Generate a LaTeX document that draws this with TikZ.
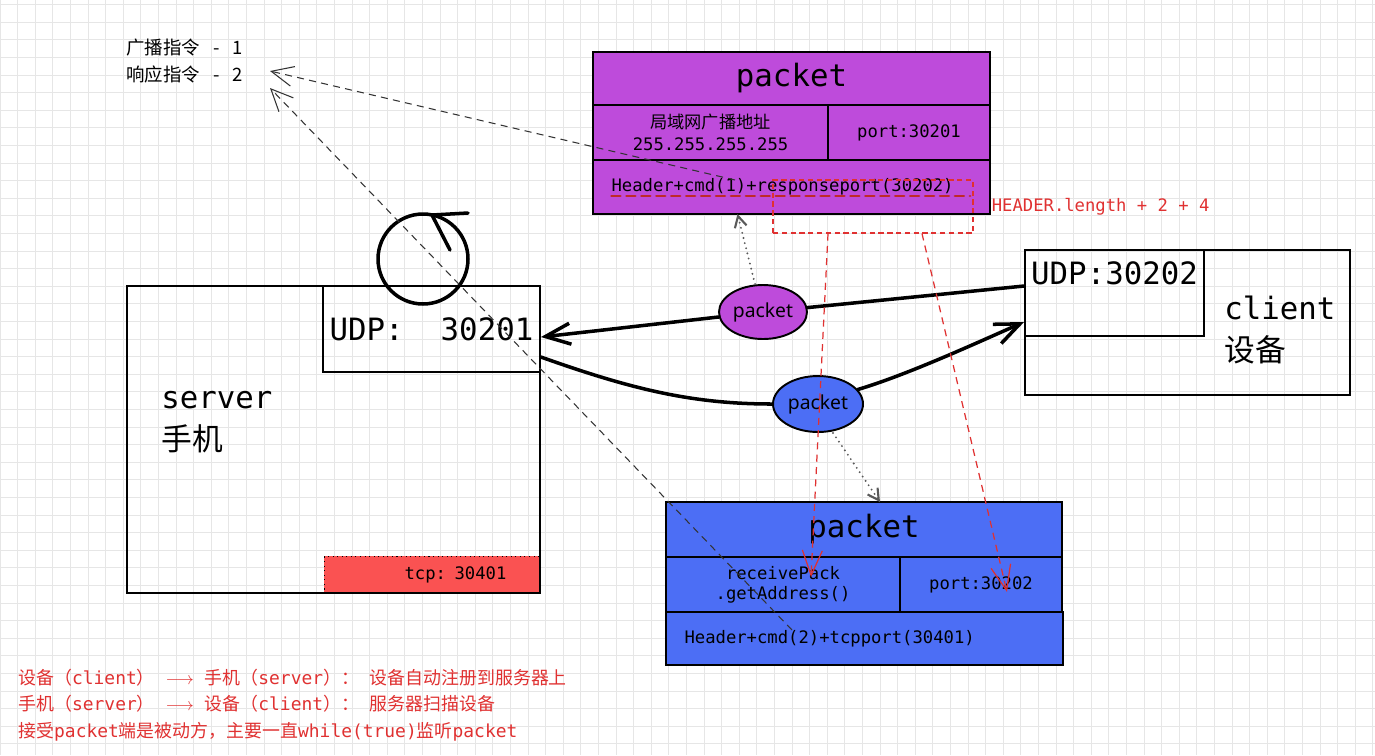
\documentclass[tikz,border=0pt]{standalone}
\usepackage{fontspec}
\setmonofont{DejaVu Sans Mono}
\setsansfont{Noto Sans}
\newfontfamily\cjk{Noto Sans CJK SC}
\usetikzlibrary{positioning,shapes.geometric,arrows.meta}
\definecolor{pktviolet}{HTML}{BE4BDB}
\definecolor{pktblue}{HTML}{4C6EF5}
\definecolor{tcpred}{HTML}{FA5252}
\definecolor{notered}{HTML}{E03131}
\definecolor{gridgray}{HTML}{E6E6E6}
\newcommand{\bigtt}{\fontsize{17.5}{21}\selectfont\ttfamily}
\newcommand{\biglabel}{\fontsize{17.5}{24}\selectfont\ttfamily}
\newcommand{\smalltt}{\fontsize{9.8}{12.5}\selectfont\ttfamily}
\newcommand{\notefont}{\fontsize{10.2}{14.9}\selectfont\ttfamily}
\newcommand{\cmdfont}{\cjk\fontsize{10.5}{15.3}\selectfont}
\newcommand{\blobfont}{\fontsize{11}{13}\selectfont\sffamily}

\begin{document}
\begin{tikzpicture}[x=0.02cm, y=-0.02cm,
    gridline/.style={draw=gridgray, line width=0.5pt},
    cell/.style={draw, line width=1.1pt, inner sep=0pt, outer sep=0pt, align=center, font=\smalltt},
    titlecell/.style={cell, font=\bigtt},
    datacell/.style={cell, align=left, inner xsep=0.37cm},
    hostbox/.style={draw, line width=1.1pt, inner sep=0pt},
    porttext/.style={font=\bigtt, inner sep=0pt},
    hostlabel/.style={font=\biglabel, align=left, inner sep=0pt, anchor=west},
    tcpbox/.style={fill=tcpred, draw, dotted, line width=0.6pt, inner ysep=0pt,
                   inner xsep=0.66cm, font=\smalltt, align=right},
    blob/.style={ellipse, draw, line width=1.1pt, inner sep=0pt, font=\blobfont},
    loopring/.style={circle, draw, line width=2pt, minimum size=1.8cm, inner sep=0pt},
    wire/.style={line width=2pt, line cap=round,
                 -{Straight Barb[length=0.5cm, width=0.42cm]}},
    guide/.style={draw=black!80, line width=0.6pt, dash pattern=on 4pt off 3pt,
                  -{Straight Barb[length=0.44cm, width=0.4cm]}},
    dotline/.style={draw=black!65, line width=1.2pt, dash pattern=on 0pt off 3pt,
                    line cap=round, -{Straight Barb[length=0.22cm, width=0.24cm]}},
    hdrframe/.style={draw=notered, line width=0.7pt, dash pattern=on 3pt off 2pt,
                     minimum width=4cm, minimum height=1.06cm, inner sep=0pt},
    hdrline/.style={draw=notered!85!black, line width=1.6pt,
                    dash pattern=on 5pt off 3.5pt, line cap=round},
    redarrow/.style={draw=notered, line width=0.7pt, dash pattern=on 4pt off 3pt,
                     -{Straight Barb[length=0.5cm, width=0.4cm]}},
    notetext/.style={align=left, inner sep=0pt, anchor=north west},
]

% background grid
\path[fill=white, use as bounding box] (0,0) rectangle (1375,755);
\foreach \gx in {0,...,78} \draw[gridline] ({\gx*17.6},0) -- ({\gx*17.6},755);
\foreach \gy in {0,...,42} \draw[gridline] (0,{4.6+\gy*17.6}) -- (1375,{4.6+\gy*17.6});

% command legend
\node[notetext, font=\cmdfont] (cmds) at (126,39) {广播指令\hspace{0.7em}-\hspace{0.7em}1\\响应指令\hspace{0.7em}-\hspace{0.7em}2};

% broadcast packet
\node[titlecell, fill=pktviolet, minimum width=7.94cm, minimum height=1.06cm] (ptitle) at (791.5,78.5) {packet};
\node[cell, fill=pktviolet, minimum width=4.7cm, minimum height=1.1cm,
      below=0pt of ptitle.south west, anchor=north west] (paddr) {{\cjk 局域网广播地址}\\255.255.255.255};
\node[cell, fill=pktviolet, minimum width=3.24cm, minimum height=1.1cm, right=0pt of paddr] (pport) {port:30201};
\node[datacell, fill=pktviolet, text width=7.2cm, minimum height=1.08cm,
      below=0pt of paddr.south west, anchor=north west] (pdata) {Header+cmd(1)+responseport(30202)};

% header length mark
\node[hdrframe] (hdr) at (873,206.5) {};
\node[right=0.24cm of hdr, text=notered, font=\smalltt] (hdrlen) {HEADER.length + 2 + 4};
\draw[hdrline] ([xshift=0.37cm, yshift=-0.18cm]pdata.west) -- ([xshift=-0.4cm, yshift=-0.18cm]pdata.east);

% server
\node[hostbox, minimum width=8.26cm, minimum height=6.14cm] (server) at (333.5,439.5) {};
\node[hostbox, font=\bigtt, minimum width=4.34cm, minimum height=1.72cm, anchor=north east] (sudp) at (server.north east) {UDP:\ \ 30201};
\node[tcpbox, minimum width=4.3cm, minimum height=0.72cm, text width=2.98cm, anchor=south east] (tcp)
      at ([xshift=-0.55pt, yshift=0.55pt]server.south east) {tcp: 30401};
\node[hostlabel] (srvname) at (161,422) {server\\{\cjk 手机}};

% client
\node[hostbox, minimum width=6.5cm, minimum height=2.9cm] (client) at (1187.5,322.5) {};
\node[hostbox, minimum width=3.58cm, minimum height=1.72cm, anchor=north west] (cudp) at (client.north west) {};
\node[porttext, below=0.24cm of cudp.north] (cudpname) {UDP:30202};
\node[hostlabel] (cltname) at (1224,330) {client\\{\cjk 设备}};

% listening loop
\node[loopring] (loop) at (423,259) {};
\draw[line width=2pt, line cap=round, line join=round]
    ([shift={(45,-46)}]loop.center) -- ([shift={(9,-44)}]loop.center) -- ([shift={(27,-9)}]loop.center);

% packets on the wire
\node[blob, fill=pktviolet, minimum width=1.76cm, minimum height=1.08cm] (pkt1) at (763,312) {packet};
\node[blob, fill=pktblue, minimum width=1.8cm, minimum height=1.12cm] (pkt2) at (818,404) {packet};

\draw[wire, -] ([yshift=0.14cm]cudp.west) -- (pkt1);
\draw[wire] (pkt1) -- ([yshift=-0.16cm]sudp.east);
\draw[wire, -] ([yshift=-0.56cm]sudp.east) .. controls +(90,32) and +(-80,0) .. (pkt2.west);
\draw[wire] (pkt2.20) .. controls +(50,-15) and +(-50,22) .. ([yshift=-0.58cm]cudp.west);

% response packet
\node[titlecell, fill=pktblue, minimum width=7.92cm, minimum height=1.1cm] (btitle) at (864,529.5) {packet};
\node[cell, fill=pktblue, minimum width=4.68cm, minimum height=1.1cm,
      below=0pt of btitle.south west, anchor=north west, font=\fontsize{9.8}{11.5}\selectfont\ttfamily] (baddr) {receivePack\\.getAddress()};
\node[cell, fill=pktblue, minimum width=3.24cm, minimum height=1.1cm, right=0pt of baddr] (bport) {port:30202};
\node[datacell, fill=pktblue, text width=7.2cm, minimum height=1.06cm,
      below=0pt of baddr.south west, anchor=north west] (bdata) {Header+cmd(2)+tcpport(30401)};

% dotted hints
\draw[dotline] ([xshift=-0.16cm]pkt1.north) -- ([xshift=-1.08cm]pdata.south);
\draw[dotline] ([xshift=0.3cm]pkt2.south) -- ([xshift=0.32cm]btitle.north);

% where the fields go
\draw[redarrow] ([xshift=-0.9cm]hdr.south) -- ([xshift=0.56cm, yshift=-0.4cm]baddr.north);
\draw[redarrow] ([xshift=0.98cm]hdr.south) -- ([xshift=0.52cm, yshift=-0.15cm]bport.center);

% command guides
\coordinate (tipA) at (270,71);
\coordinate (tipB) at (270,88);
\coordinate (fromA) at (735,180);
\coordinate (fromB) at (792,630);
\draw[guide] (fromA) -- (tipA);
\draw[guide] (fromB) -- (tipB);

% notes
\node[notetext, text=notered, font=\notefont] (notes) at (18,669) {%
{\cjk 设备（}client{\cjk ）}\ $\longrightarrow$ {\cjk 手机（}server{\cjk ）：}\ {\cjk 设备自动注册到服务器上}\\
{\cjk 手机（}server{\cjk ）}\ $\longrightarrow$ {\cjk 设备（}client{\cjk ）：}\ {\cjk 服务器扫描设备}\\
{\cjk 接受}packet{\cjk 端是被动方，主要一直}while(true){\cjk 监听}packet};

\end{tikzpicture}
\end{document}
